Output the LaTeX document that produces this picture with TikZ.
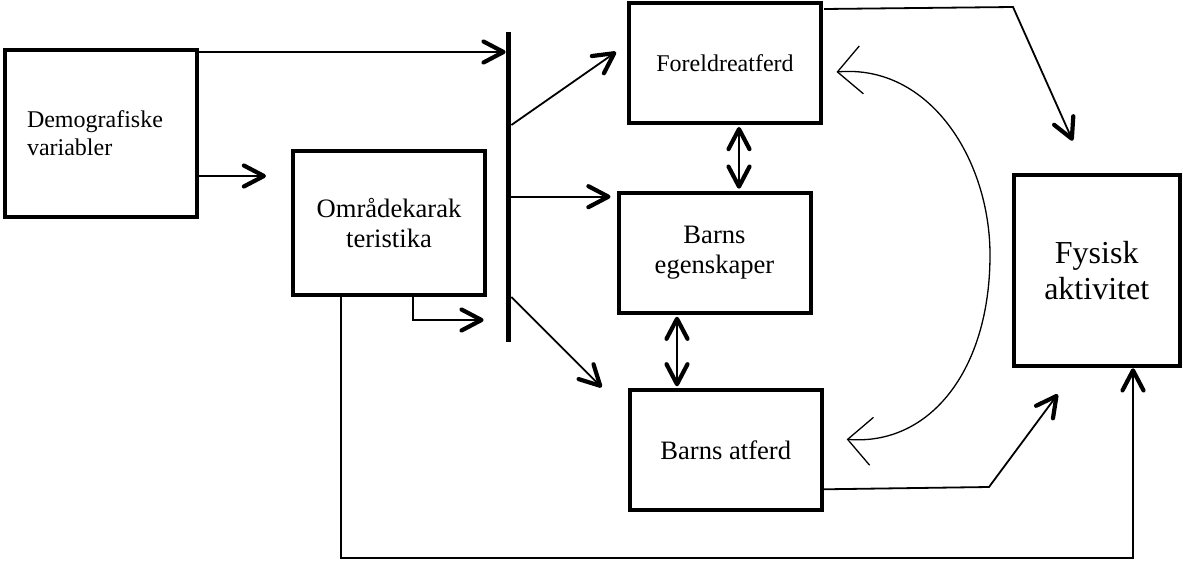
\documentclass[tikz,border=0pt]{standalone}
\usepackage{fontspec}
\setmainfont{Liberation Serif}
\usetikzlibrary{arrows.meta,calc}
\begin{document}
\begin{tikzpicture}[x=0.5pt,y=-0.5pt,
  box/.style={draw, line width=2pt, rectangle, inner sep=0pt, align=center, minimum width=96pt, minimum height=60pt},
  conn/.style={line width=0.9pt},
  tipthick/.tip={Straight Barb[length=10pt,width=10.5pt,line width=2.1pt,round]},
  tipthin/.tip={Straight Barb[length=12pt,width=24pt,line width=0.65pt]},
  arr/.style={conn, -tipthick},
  darr/.style={conn, tipthick-tipthick, shorten <=1pt, shorten >=1pt},
  curvearr/.style={line width=0.65pt, tipthin-tipthin},
  fsmall/.style={font=\fontsize{12}{14}\selectfont},
  fmid/.style={font=\fontsize{13.3}{15}\selectfont},
  fbig/.style={font=\fontsize{16}{18}\selectfont},
]
\useasboundingbox (0,0) rectangle (1183,562);

% boxes
\node[box, fsmall, align=left, text width=74pt, inner xsep=11pt, minimum height=83.5pt] (demo) at (101,133.5) {Demografiske\\variabler};
\node[box, fmid, minimum height=72pt] (omr) at (389,223) {Områdekarak\\teristika};
\node[box, fsmall] (fo) at (725,63) {Foreldreatferd};
\node[box, fmid] (be) at (714.5,252.7) {Barns\\egenskaper};
\node[box, fmid] (ba) at (725.7,450.3) {Barns atferd};
\node[box, fbig, minimum width=83pt, minimum height=95.8pt] (fy) at (1096.7,270.5) {Fysisk\\aktivitet};

% junction bar
\node[fill=black, inner sep=0pt, minimum width=2.5pt, minimum height=155pt] (bar) at (508.5,187) {};

% helper coordinates
\coordinate (d1) at ($(demo.north east)+(0,4)$);
\coordinate (d2) at ($(demo.south east)+(0,-43)$);
\coordinate (o1) at ($(omr.south)+(24,0)$);
\coordinate (o2) at ($(o1)+(0,23)$);
\coordinate (o3) at ($(omr.south)+(-48,0)$);
\coordinate (bl) at (0,558);
\coordinate (f1) at ($(fy.south)+(36.3,0)$);
\coordinate (y125) at (0,125);
\coordinate (y297) at (0,297);
\coordinate (b1) at ($(be.north west)+(0,6)$);
\coordinate (fb) at ($(fo.south)+(14,0)$);
\coordinate (eb) at ($(be.south)+(-37.5,0)$);
\coordinate (k0) at ($(fo.north east)+(1,8)$);
\coordinate (k1) at (1013,7);
\coordinate (k2s) at ($(ba.south east)+(0,-23)$);
\coordinate (k2) at (989,487);
\coordinate (ct1) at ($(fo.east)+(13.5,9)$);
\coordinate (ct2) at ($(ba.east)+(23,-11)$);

% connectors
\draw[arr] (d1) -- (d1 -| bar.west);
\draw[arr, shorten >=12.5pt] (d2) -- (d2 -| omr.west);
\draw[arr, shorten >=11pt] (o1) -- (o2) -- (o2 -| bar.west);
\draw[arr] (o3) -- (o3 |- bl) -| (f1);
\draw[arr] (bar.east |- y125) -- ($(fo.west)+(-11,-11)$);
\draw[arr, shorten >=3pt] (b1 -| bar.east) -- (b1);
\draw[arr] (bar.east |- y297) -- ($(ba.north west)+(-26,-1)$);
\draw[darr] (fb) -- (fb |- be.north);
\draw[darr] (eb) -- (eb |- ba.north);
\draw[arr] (k0) -- (k1) -- ($(fy.north)+(-24,-32)$);
\draw[arr] (k2s) -- (k2) -- ($(fy.south west)+(46,26)$);
\draw[curvearr] (ct1) .. controls (930,64) and (990,160) .. (990,255)
  .. controls (990,370) and (930,446) .. (ct2);
\end{tikzpicture}
\end{document}
